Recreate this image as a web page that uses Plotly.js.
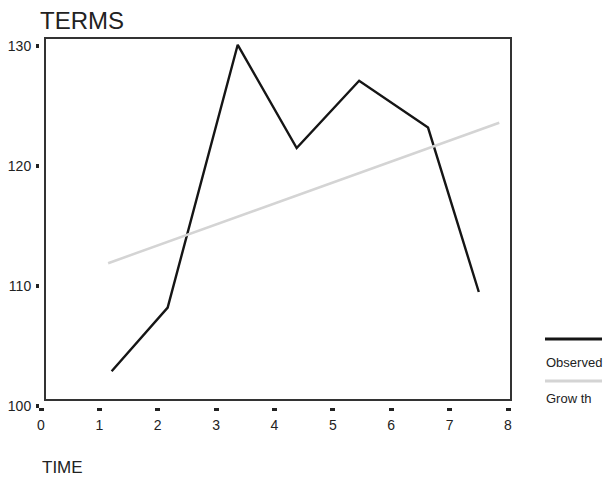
<!DOCTYPE html>
<html>
<head>
<meta charset="utf-8">
<script src="https://cdn.plot.ly/plotly-3.0.1.min.js"></script>
<style>html,body{margin:0;padding:0;background:#fff;}#chart{width:609px;height:477px;}</style>
</head>
<body>
<div id="chart"></div>
<script>
// Data
var obsX = [1.21, 2.17, 3.37, 4.38, 5.45, 6.63, 7.50];
var obsY = [102.9, 108.2, 130.1, 121.5, 127.1, 123.2, 109.5];
var growthX = [1.15, 7.85];
var growthY = [111.9, 123.6];
var xTicks = [0, 1, 2, 3, 4, 5, 6, 7, 8];
var yTicks = [100, 110, 120, 130];
var seriesNames = ["Observed", "Grow th"];

var FONT = "Arial, 'Liberation Sans', sans-serif";

var traces = [
  {x: obsX, y: obsY, type: 'scatter', mode: 'lines', name: seriesNames[0],
   line: {color: '#151515', width: 2.4}, showlegend: false, hoverinfo: 'skip'},
  {x: growthX, y: growthY, type: 'scatter', mode: 'lines', name: seriesNames[1],
   line: {color: '#d4d4d4', width: 2.5}, showlegend: false, hoverinfo: 'skip'}
];

// pixel helpers for decorations (plot area: left 40, right 510, top 38, bottom 407)
function px(p){ return (p - 40) / 470; }
function py(p){ return (407 - p) / 369; }

var layout = {
  width: 609, height: 477,
  margin: {l: 40, r: 99, t: 38, b: 70},
  paper_bgcolor: '#fff', plot_bgcolor: '#fff',
  font: {family: FONT, color: '#222', size: 14},
  title: {text: 'TERMS', x: 0, xref: 'paper', xanchor: 'left',
          y: 1 - 21/477, yref: 'container', yanchor: 'middle',
          font: {family: FONT, size: 24, color: '#222'}},
  xaxis: {range: [-1/58.4, 8 + 2/58.4], tickvals: xTicks, ticktext: xTicks.map(String),
          showgrid: false, zeroline: false, showline: false,
          ticks: 'outside', ticklen: 3, tickwidth: 5, tickcolor: '#222',
          ticklabelstandoff: 2, tickfont: {family: FONT, size: 14, color: '#222'}},
  yaxis: {range: [100 - 1/12, 130 + 8/12], tickvals: yTicks, ticktext: yTicks.map(String),
          showgrid: false, zeroline: false, showline: false,
          ticks: 'outside', ticklen: 3, tickwidth: 4, tickcolor: '#222',
          ticklabelstandoff: 2, tickfont: {family: FONT, size: 14, color: '#222'}},
  shapes: [
    {type: 'rect', xref: 'paper', yref: 'paper', x0: px(45), x1: px(511), y0: py(400), y1: py(38),
     line: {color: '#333', width: 2}, fillcolor: 'rgba(0,0,0,0)', layer: 'above'},
    {type: 'line', xref: 'paper', yref: 'paper', x0: px(545), x1: px(602), y0: py(339), y1: py(339),
     line: {color: '#151515', width: 3}},
    {type: 'line', xref: 'paper', yref: 'paper', x0: px(545), x1: px(602), y0: py(381), y1: py(381),
     line: {color: '#d4d4d4', width: 3}}
  ],
  annotations: [
    {text: seriesNames[0], xref: 'paper', yref: 'paper', x: px(544), y: py(362),
     xanchor: 'left', yanchor: 'middle', showarrow: false, font: {family: FONT, size: 13, color: '#222'}},
    {text: seriesNames[1], xref: 'paper', yref: 'paper', x: px(544), y: py(398),
     xanchor: 'left', yanchor: 'middle', showarrow: false, font: {family: FONT, size: 13, color: '#222'}},
    {text: 'TIME', xref: 'paper', yref: 'paper', x: px(40), y: py(467),
     xanchor: 'left', yanchor: 'middle', showarrow: false, font: {family: FONT, size: 17, color: '#222'}}
  ]
};

Plotly.newPlot('chart', traces, layout, {displayModeBar: false, staticPlot: true});
</script>
</body>
</html>
